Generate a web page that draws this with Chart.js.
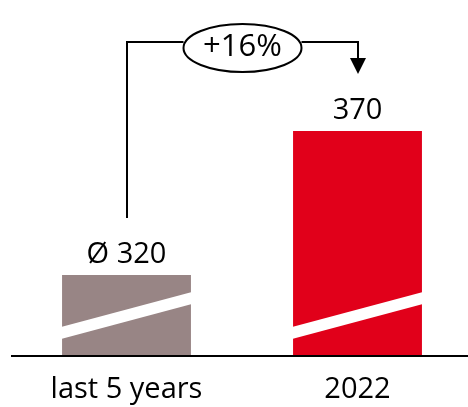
<!DOCTYPE html>
<html>
<head>
<meta charset="utf-8">
<script src="https://cdn.jsdelivr.net/npm/chart.js@4/dist/chart.umd.min.js"></script>
<style>
  html, body { margin: 0; padding: 0; background: #fff; overflow: hidden; }
  #wrap { position: relative; width: 480px; height: 407px; }
</style>
</head>
<body>
<div id="wrap"><canvas id="growthChart"></canvas></div>
<script>
// data
const categories = ['last 5 years', '2022'];
const values = [320, 370];
const valuePrefixes = ['Ø ', ''];
const barColors = ['#988585', '#e1001a'];

document.addEventListener('DOMContentLoaded', function() {

  const FONT = '"Open Sans", "Noto Sans", sans-serif';

  // value labels above the bars
  const valueLabels = {
    id: 'valueLabels',
    afterDatasetsDraw(chart) {
      const ctx = chart.ctx;
      const meta = chart.getDatasetMeta(0);
      ctx.save();
      ctx.fillStyle = '#000';
      ctx.font = '29px ' + FONT;
      ctx.textAlign = 'center';
      ctx.textBaseline = 'alphabetic';
      meta.data.forEach((bar, i) => {
        ctx.fillText(valuePrefixes[i] + values[i], bar.x, bar.y - 12);
      });
      ctx.restore();
    }
  };

  // white diagonal break through the bars + base line
  const axisBreak = {
    id: 'axisBreak',
    afterDatasetsDraw(chart) {
      const ctx = chart.ctx;
      const base = chart.chartArea.bottom;
      const meta = chart.getDatasetMeta(0);
      ctx.save();
      ctx.fillStyle = '#fff';
      meta.data.forEach(bar => {
        const l = bar.x - bar.width / 2, r = bar.x + bar.width / 2;
        ctx.beginPath();
        ctx.moveTo(l - 1, base - 28);
        ctx.lineTo(r + 1, base - 63);
        ctx.lineTo(r + 1, base - 51);
        ctx.lineTo(l - 1, base - 16);
        ctx.closePath();
        ctx.fill();
      });
      // base line
      ctx.strokeStyle = '#000';
      ctx.lineWidth = 2;
      ctx.beginPath();
      ctx.moveTo(chart.chartArea.left, Math.round(base) + 1);
      ctx.lineTo(chart.width, Math.round(base) + 1);
      ctx.stroke();
      ctx.restore();
    }
  };

  // bracket with the growth bubble
  const growthBracket = {
    id: 'growthBracket',
    afterDraw(chart) {
      const ctx = chart.ctx;
      const meta = chart.getDatasetMeta(0);
      const x1 = Math.round(meta.data[0].x), x2 = Math.round(meta.data[1].x);
      const cx = (x1 + x2) / 2;
      const lineY = 42;
      const pct = Math.round((values[1] / values[0] - 1) * 100);
      ctx.save();
      ctx.strokeStyle = '#000';
      ctx.fillStyle = '#000';
      ctx.lineWidth = 2;
      ctx.beginPath();
      ctx.moveTo(x1, Math.round(meta.data[0].y) - 57);
      ctx.lineTo(x1, lineY);
      ctx.lineTo(cx - 59, lineY);
      ctx.moveTo(cx + 59, lineY);
      ctx.lineTo(x2, lineY);
      ctx.lineTo(x2, 60);
      ctx.stroke();
      // arrow head
      ctx.beginPath();
      ctx.moveTo(x2 - 8, 58);
      ctx.lineTo(x2 + 8, 58);
      ctx.lineTo(x2, 74);
      ctx.closePath();
      ctx.fill();
      // bubble
      ctx.beginPath();
      ctx.ellipse(cx, 48, 59, 24, 0, 0, Math.PI * 2);
      ctx.fillStyle = '#fff';
      ctx.fill();
      ctx.stroke();
      ctx.fillStyle = '#000';
      ctx.font = '31px ' + FONT;
      ctx.textAlign = 'center';
      ctx.textBaseline = 'alphabetic';
      ctx.fillText('+' + pct + '%', cx, 56);
      ctx.restore();
    }
  };

  const ctx1 = document.getElementById('growthChart');
  const growthChart = new Chart(ctx1, {
    type: 'bar',
    data: {
      labels: categories,
      datasets: [{
        data: values,
        backgroundColor: barColors,
        borderWidth: 0,
        barPercentage: 0.558,
        categoryPercentage: 1
      }]
    },
    options: {
      responsive: true,
      maintainAspectRatio: false,
      animation: false,
      layout: {
        padding: { top: 131, left: 11, right: 7, bottom: 0 }
      },
      plugins: {
        legend: { display: false },
        tooltip: { enabled: false }
      },
      scales: {
        x: {
          grid: { display: false, drawTicks: false },
          border: { display: false },
          ticks: {
            color: '#000',
            padding: 17,
            font: { family: FONT, size: 29 }
          },
          afterFit: s => { s.height = 52; }
        },
        y: {
          display: false,
          min: 292.2,
          max: 370
        }
      }
    },
    plugins: [axisBreak, valueLabels, growthBracket]
  });
});
</script>
</body>
</html>
